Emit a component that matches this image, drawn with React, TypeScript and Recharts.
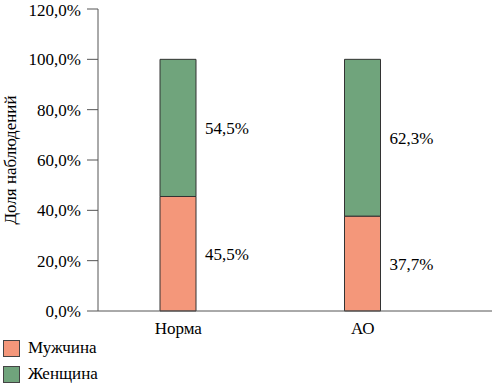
import { BarChart, Bar, XAxis, YAxis, Legend, Label, LabelList } from 'recharts';

const groups = ['Норма', 'АО'];
const maleShare = [45.5, 37.7];
const femaleShare = [54.5, 62.3];
const yTicks = [0, 20, 40, 60, 80, 100, 120];

const seriesNames = { male: 'Мужчина', female: 'Женщина' };
const colors = { male: '#f4977a', female: '#70a47c' };

const data = groups.map((group, i) => ({
	group,
	male: maleShare[i],
	female: femaleShare[i],
}));

const FONT = 'Liberation Serif';
const FONT_SIZE = 17;
const AXIS_COLOR = '#555555';
const textStyle = { fontFamily: FONT, fontSize: FONT_SIZE };

const pct = (v: number) => `${Number(v).toFixed(1).replace('.', ',')}%`;

const LegendBox = () => {
	const rows = [
		{ name: seriesNames.male, color: colors.male, h: 26 },
		{ name: seriesNames.female, color: colors.female, h: 24 },
	];
	return (
		<div style={{ height: 50, paddingLeft: 3, fontFamily: FONT, fontSize: FONT_SIZE, color: '#000' }}>
			{rows.map((r) => (
				<div key={r.name} style={{ height: r.h, display: 'flex', alignItems: 'flex-start' }}>
					<div
						style={{
							width: 17,
							height: 17,
							boxSizing: 'border-box',
							background: r.color,
							border: '1px solid #444',
							marginTop: 4,
							marginRight: 8,
						}}
					/>
					<span style={{ lineHeight: '24px', fontFamily: FONT }}>{r.name}</span>
				</div>
			))}
		</div>
	);
};

const App = () => {
	return (
		<div style={{ position: 'absolute', left: 0, top: 0, width: 492, height: 386, background: '#fff', fontFamily: FONT }}>
			<BarChart width={492} height={386} data={data} margin={{ top: 9, right: 0, left: 0, bottom: 0 }} style={{ fontFamily: FONT }}>
				<XAxis
					dataKey='group'
					padding={{ left: -12, right: 37 }}
					stroke={AXIS_COLOR}
					tickLine={false}
					tickSize={6}
					tickMargin={5}
					height={25}
					tick={{ fill: '#000', fontSize: FONT_SIZE, fontFamily: FONT, style: textStyle }}
				/>
				<YAxis
					domain={[0, 120]}
					ticks={yTicks}
					width={98}
					stroke={AXIS_COLOR}
					tickSize={11}
					tickMargin={6}
					tickFormatter={pct}
					tick={{ fill: '#000', fontSize: FONT_SIZE, fontFamily: FONT, style: textStyle }}
				>
					<Label
						value='Доля наблюдений'
						angle={-90}
						position='insideLeft'
						offset={10}
						style={{ textAnchor: 'middle', fill: '#000', fontSize: FONT_SIZE, fontFamily: FONT }}
					/>
				</YAxis>
				<Legend
					verticalAlign='bottom'
					align='left'
					layout='horizontal'
					content={<LegendBox />}
					wrapperStyle={{ margin: 0, padding: 0, fontFamily: FONT }}
				/>
				<Bar dataKey='male' name={seriesNames.male} stackId='a' fill={colors.male} stroke='#333' strokeWidth={1} barSize={36} isAnimationActive={false}>
					<LabelList dataKey='male' position='right' offset={9} formatter={pct} fill='#000' fontSize={FONT_SIZE} fontFamily={FONT} style={textStyle} />
				</Bar>
				<Bar dataKey='female' name={seriesNames.female} stackId='a' fill={colors.female} stroke='#333' strokeWidth={1} barSize={36} isAnimationActive={false}>
					<LabelList dataKey='female' position='right' offset={9} formatter={pct} fill='#000' fontSize={FONT_SIZE} fontFamily={FONT} style={textStyle} />
				</Bar>
			</BarChart>
		</div>
	);
};

export default App;
